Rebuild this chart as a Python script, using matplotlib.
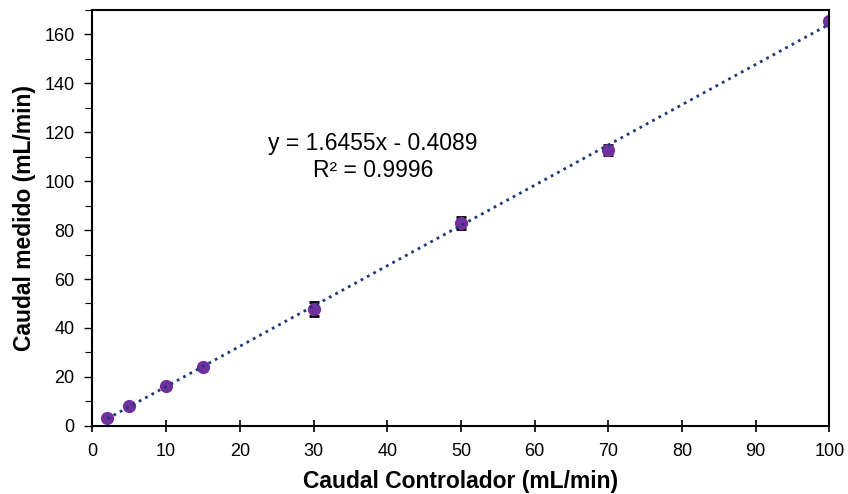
import matplotlib
matplotlib.use("Agg")
import matplotlib.pyplot as plt
import numpy as np
from matplotlib.ticker import MultipleLocator

plt.rcParams['font.family'] = ['Liberation Sans', 'DejaVu Sans']

x_ctrl = [2, 5, 10, 15, 30, 50, 70, 100]
y_med = [3.3, 8.2, 16.3, 24.1, 47.8, 82.9, 112.7, 165.3]
y_err = [0.5, 0.5, 0.6, 0.6, 2.9, 2.4, 2.2, 0.6]
slope, intercept = 1.6455, -0.4089

fig = plt.figure(figsize=(8.48, 4.94), dpi=100)
ax = fig.add_axes([0.109, 0.138, 0.869, 0.842])

xt = np.array([min(x_ctrl), max(x_ctrl)])
ax.errorbar(x_ctrl, y_med, yerr=y_err, fmt='none',
            ecolor='black', elinewidth=1, capsize=3.5, capthick=2, zorder=1)
ax.plot(x_ctrl, y_med, 'o', color='#7030A0', ms=8.5, zorder=2)
ax.plot(xt, slope * xt + intercept, linestyle=(0, (1, 1.6)), color='#1F3A75', lw=2.0, zorder=3)

ax.set_xlim(0, 100)
ax.set_ylim(0, 170)
ax.xaxis.set_major_locator(MultipleLocator(10))
ax.yaxis.set_major_locator(MultipleLocator(20))
ax.yaxis.set_minor_locator(MultipleLocator(10))
ax.tick_params(axis='x', direction='inout', length=8, width=1.2, labelsize=13, pad=8.5)
ax.tick_params(axis='y', which='major', direction='out', length=6, width=1, labelsize=13, pad=7)
ax.tick_params(axis='y', which='minor', direction='out', length=5, width=0.8)
for s in ax.spines.values():
    s.set_linewidth(1.5)

ax.set_xlabel('Caudal Controlador (mL/min)', fontsize=16.5, fontweight='bold', labelpad=7)
ax.set_ylabel('Caudal medido (mL/min)', fontsize=16.5, fontweight='bold', labelpad=6)

ax.text(0.381, 0.678, 'y = 1.6455x - 0.4089', transform=ax.transAxes, ha='center', va='center', fontsize=16.5)
ax.text(0.381, 0.615, 'R² = 0.9996', transform=ax.transAxes, ha='center', va='center', fontsize=16.5)

fig.savefig('out.png', dpi=100)
